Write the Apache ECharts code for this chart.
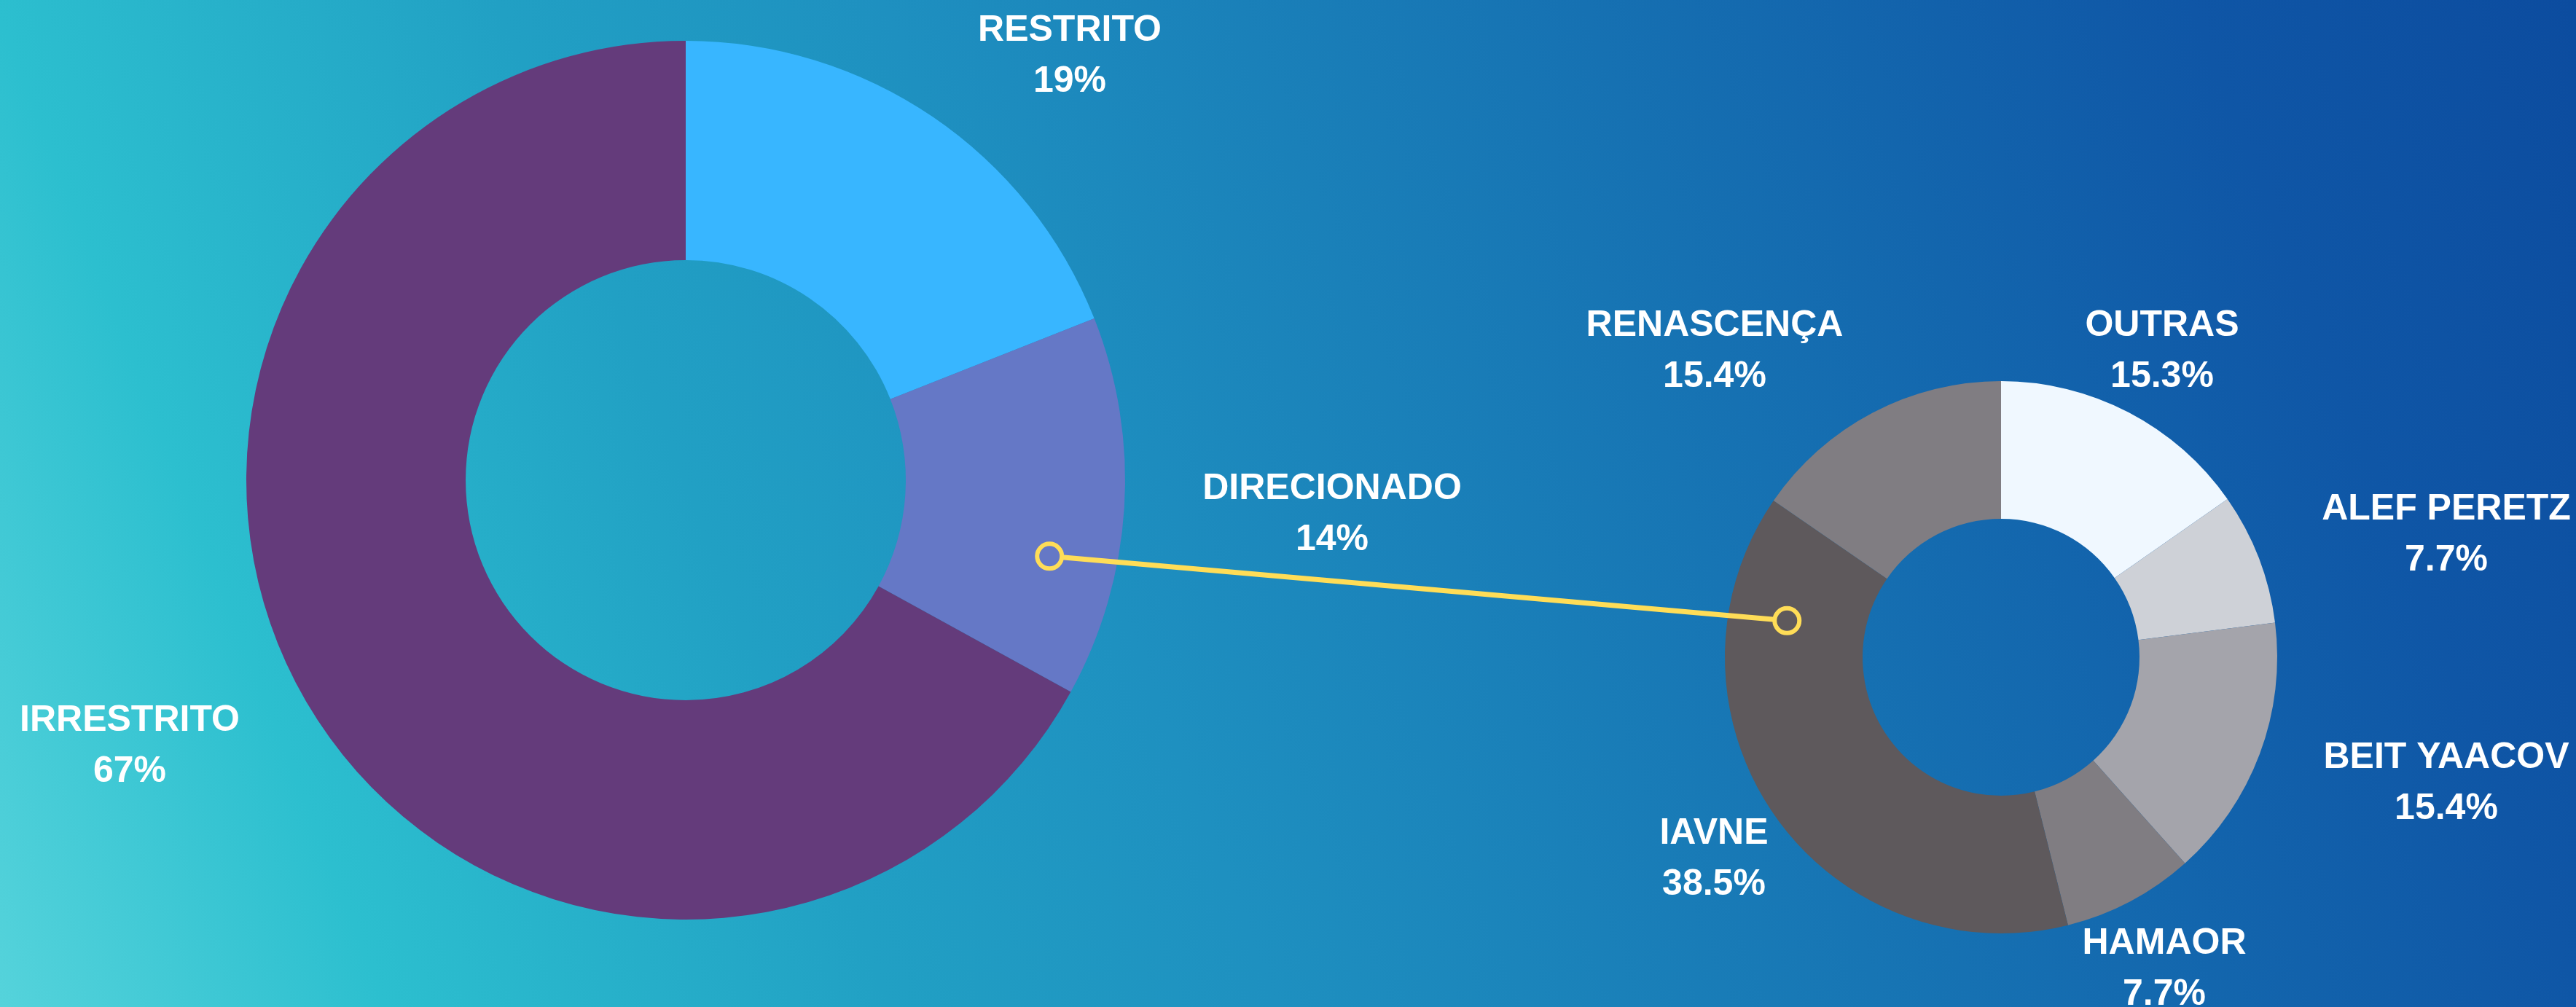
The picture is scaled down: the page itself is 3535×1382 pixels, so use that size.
<!DOCTYPE html>
<html>
<head>
  <meta charset="utf-8">
  <script src="https://cdn.jsdelivr.net/npm/echarts@6/dist/echarts.min.js"></script>
  <style>
    html, body { margin: 0; padding: 0; width: 100%; height: 100%; }
    #main { width: 3535px; height: 1382px; }
  </style>
</head>
<body>
  <div id="main"></div>
  <script>
    // tipo de vaga (donut grande)
    var tipoNomes = ['RESTRITO', 'DIRECIONADO', 'IRRESTRITO'];
    var tipoValores = [19, 14, 67];
    var tipoCores = ['#38b6ff', '#6578c6', '#643b7b'];

    // escolas do direcionado (donut pequeno)
    var escolaNomes = ['OUTRAS', 'ALEF PERETZ', 'BEIT YAACOV', 'HAMAOR', 'IAVNE', 'RENASCENÇA'];
    var escolaValores = [15.3, 7.7, 15.4, 7.7, 38.5, 15.4];
    var escolaCores = ['#f0f8ff', '#ced1d7', '#a4a4ab', '#807d82', '#5e595c', '#807d82'];

    // onde ficam os textos (centro do bloco)
    var tipoLabelPos = [[1468, 77], [1828, 706], [178, 1024]];
    var escolaLabelPos = [[2967, 482], [3357, 734], [3357, 1075], [2970, 1330], [2352, 1179], [2353, 482]];

    var centroA = [941, 659], raioA = [302, 603];
    var centroB = [2746, 902], raioB = [190, 379];

    function polar(c, deg, r) {
      var a = deg * Math.PI / 180;
      return [c[0] + r * Math.sin(a), c[1] - r * Math.cos(a)];
    }

    var myChart = echarts.init(document.getElementById('main'));

    var labelBase = {
      show: true,
      formatter: '{b}\n{c}%',
      color: '#ffffff',
      fontFamily: 'Liberation Sans',
      fontWeight: 'bold',
      fontSize: 50,
      lineHeight: 70
    };

    function montaDados(nomes, valores, cores) {
      return nomes.map(function (n, i) {
        return { name: n, value: valores[i], itemStyle: { color: cores[i] } };
      });
    }

    // ligação amarela entre DIRECIONADO e IAVNE
    var p1 = polar(centroA, 101.8, 510);
    var p2 = polar(centroB, 279.7, 298);
    var rc = 17;
    var dx = p2[0] - p1[0], dy = p2[1] - p1[1];
    var len = Math.sqrt(dx * dx + dy * dy);
    var ux = dx / len, uy = dy / len;
    var amarelo = '#ffdd57';

    option = {
      backgroundColor: {
        type: 'linear', global: true,
        x: 0, y: 1382, x2: 3535, y2: 0,
        colorStops: [
          { offset: 0, color: '#55d3db' },
          { offset: 0.13, color: '#2cbfcf' },
          { offset: 0.3, color: '#21a0c4' },
          { offset: 0.43, color: '#1e90c0' },
          { offset: 0.87, color: '#0f56a6' },
          { offset: 1, color: '#0c4c9f' }
        ]
      },
      animation: false,
      series: [{
        type: 'pie',
        center: centroA,
        radius: raioA,
        startAngle: 90,
        clockwise: true,
        silent: true,
        avoidLabelOverlap: false,
        label: labelBase,
        labelLine: { show: false },
        labelLayout: function (params) {
          var p = tipoLabelPos[params.dataIndex];
          return { x: p[0], y: p[1], align: 'center', verticalAlign: 'middle' };
        },
        data: montaDados(tipoNomes, tipoValores, tipoCores)
      }, {
        type: 'pie',
        center: centroB,
        radius: raioB,
        startAngle: 90,
        clockwise: true,
        silent: true,
        avoidLabelOverlap: false,
        label: labelBase,
        labelLine: { show: false },
        labelLayout: function (params) {
          var p = escolaLabelPos[params.dataIndex];
          return { x: p[0], y: p[1], align: 'center', verticalAlign: 'middle' };
        },
        data: montaDados(escolaNomes, escolaValores, escolaCores)
      }],
      graphic: [{
        type: 'line',
        z: 100,
        shape: {
          x1: p1[0] + ux * rc, y1: p1[1] + uy * rc,
          x2: p2[0] - ux * rc, y2: p2[1] - uy * rc
        },
        style: { stroke: amarelo, lineWidth: 7 }
      }, {
        type: 'circle',
        z: 100,
        shape: { cx: p1[0], cy: p1[1], r: rc },
        style: { fill: 'transparent', stroke: amarelo, lineWidth: 6 }
      }, {
        type: 'circle',
        z: 100,
        shape: { cx: p2[0], cy: p2[1], r: rc },
        style: { fill: 'transparent', stroke: amarelo, lineWidth: 6 }
      }]
    };

    myChart.setOption(option);
  </script>
</body>
</html>
